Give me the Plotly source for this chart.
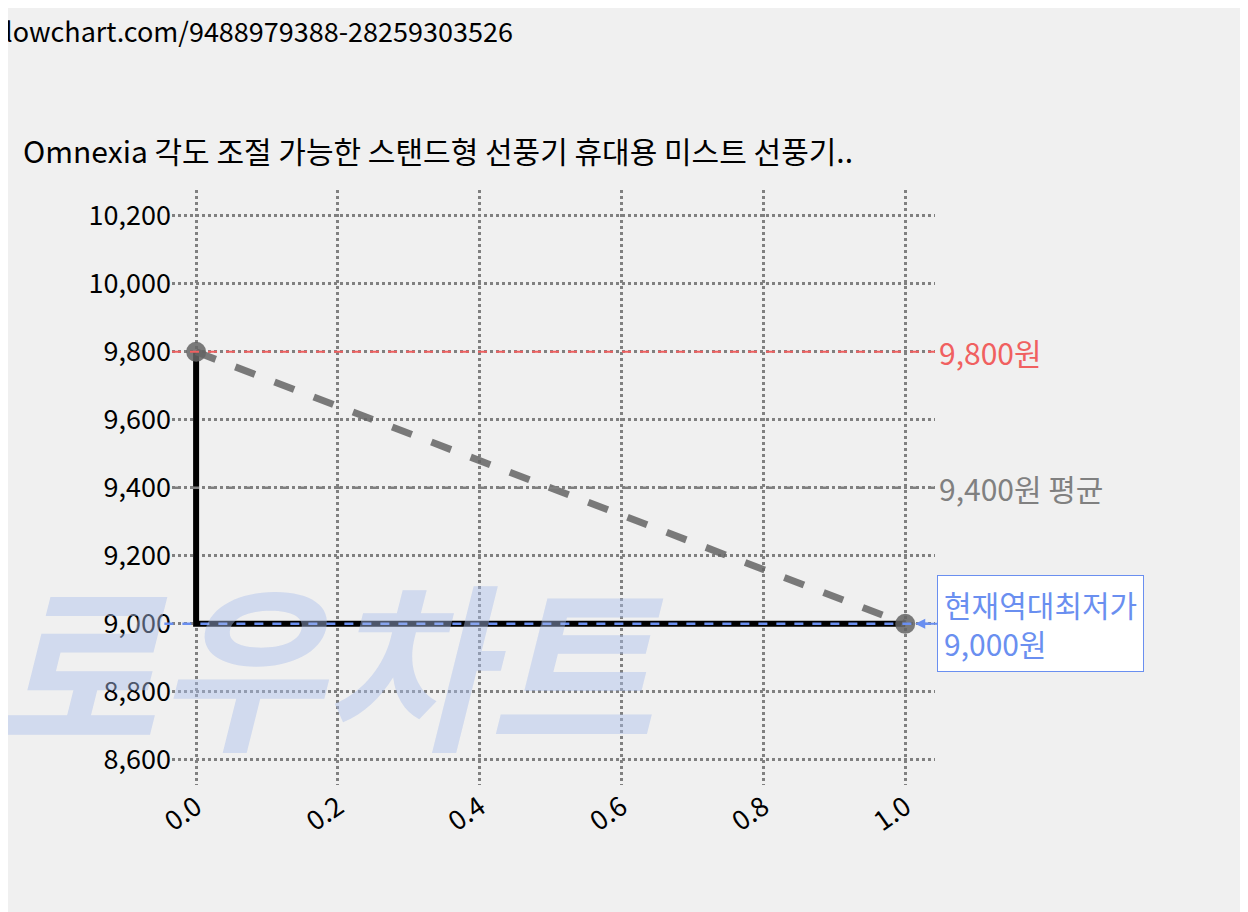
import plotly.graph_objects as go

x_vals = [0, 1]
prices = [9800, 9000]
step_x = [0, 0, 1]
step_y = [9800, 9000, 9000]
max_price = 9800
avg_price = 9400
min_price = 9000
y_ticks = [8600, 8800, 9000, 9200, 9400, 9600, 9800, 10000, 10200]
x_ticks = [0.0, 0.2, 0.4, 0.6, 0.8, 1.0]
title = "Omnexia 각도 조절 가능한 스탠드형 선풍기 휴대용 미스트 선풍기.."
url = "lowchart.com/9488979388-28259303526"

FONT = "'Noto Sans CJK KR', 'Noto Sans', sans-serif"

fig = go.Figure()
fig.add_annotation(xref="paper", yref="paper", x=-0.24, y=-0.01, text="<b><i>로우차트</i></b>",
                   showarrow=False, xanchor="left", yanchor="bottom",
                   font=dict(size=180, color="rgba(170,190,235,0.45)", family=FONT))
fig.add_trace(go.Scatter(x=step_x, y=step_y, mode="lines",
                         line=dict(color="black", width=6), showlegend=False))
fig.add_trace(go.Scatter(x=x_vals, y=prices, mode="lines+markers",
                         line=dict(color="rgba(100,100,100,0.85)", width=7, dash="dash"),
                         marker=dict(size=20, color="rgba(100,100,100,0.85)"),
                         showlegend=False))

fig.add_shape(type="line", xref="paper", x0=0, x1=1, y0=max_price, y1=max_price,
              line=dict(color="#f06060", width=2, dash="dash"))
fig.add_shape(type="line", xref="paper", x0=0, x1=1, y0=avg_price, y1=avg_price,
              line=dict(color="#808080", width=2.5, dash="dash"))
fig.add_shape(type="line", xref="paper", x0=-0.01, x1=1, y0=min_price, y1=min_price,
              line=dict(color="#6a8ff0", width=2.5, dash="dash"))

fig.add_annotation(xref="paper", x=1.0, y=max_price, text=f"{max_price:,}원", showarrow=False,
                   xanchor="left", xshift=2, font=dict(size=30, color="#f06060", family=FONT))
fig.add_annotation(xref="paper", x=1.0, y=avg_price, text=f"{avg_price:,}원 평균", showarrow=False,
                   xanchor="left", xshift=2, font=dict(size=30, color="#808080", family=FONT))
fig.add_annotation(x=1, y=min_price, ax=32, ay=0, axref="pixel", ayref="pixel",
                   text=f"현재역대최저가<br>{min_price:,}원", showarrow=True,
                   arrowhead=2, arrowcolor="#6a8ff0", arrowwidth=2, standoff=10,
                   xanchor="left", align="left", bgcolor="white", bordercolor="#6a8ff0",
                   borderwidth=1, borderpad=6, font=dict(size=30, color="#6a8ff0", family=FONT))

fig.add_annotation(xref="paper", yref="paper", x=-0.222, y=1.305, text=url, showarrow=False,
                   xanchor="left", font=dict(size=27, color="black", family=FONT))

fig.update_layout(
    width=1248, height=912,
    margin=dict(l=164, r=321, t=182, b=135),
    paper_bgcolor="#f0f0f0", plot_bgcolor="#f0f0f0",
    title=dict(text=title, x=0.012, xanchor="left", y=0.842, yanchor="middle",
               font=dict(size=30, color="black", family=FONT)),
    font=dict(family=FONT, size=26, color="black"),
    xaxis=dict(range=[-0.034, 1.042], tickvals=x_ticks, ticktext=[f"{v:.1f}" for v in x_ticks],
               tickangle=-35, showgrid=True, gridcolor="#808080", griddash="dot", gridwidth=2.5,
               zeroline=False, showline=False, tickfont=dict(size=27)),
    yaxis=dict(range=[8526, 10276], tickvals=y_ticks, ticktext=[f"{v:,}" for v in y_ticks],
               showgrid=True, gridcolor="#808080", griddash="dot", gridwidth=2.5,
               zeroline=False, showline=False, tickfont=dict(size=27), ticksuffix=" "),
)

fig.write_html("out.html")
